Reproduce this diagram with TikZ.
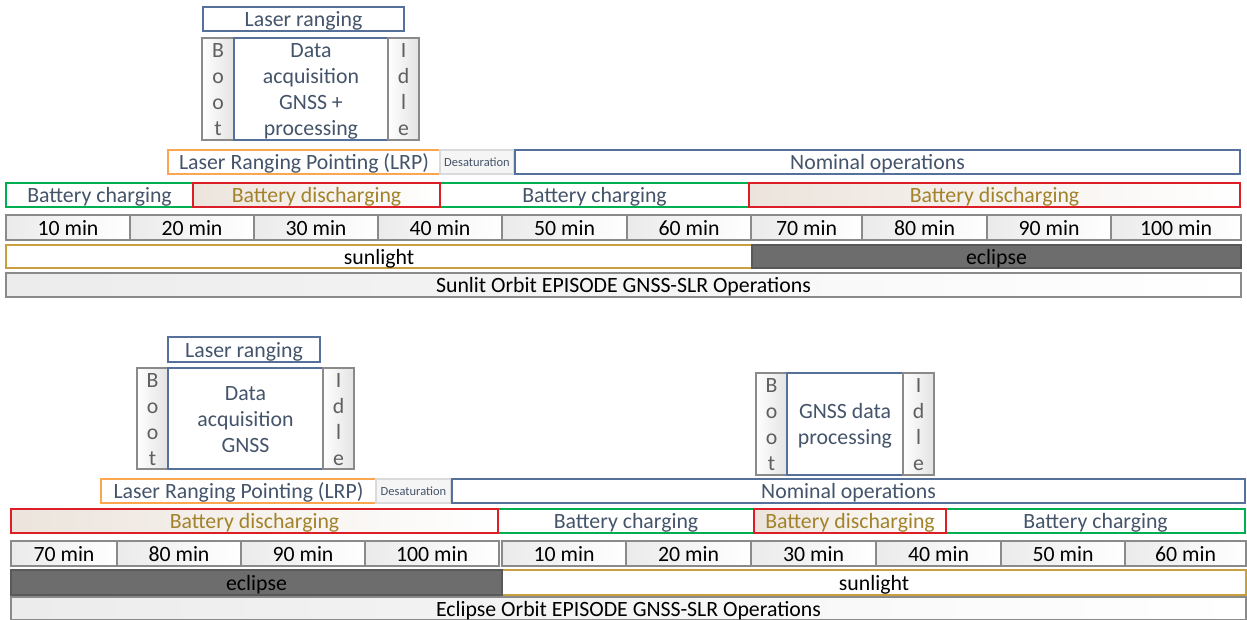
\documentclass[tikz,border=0pt]{standalone}
\usepackage{fontspec}
\setmainfont{Carlito}
\definecolor{txtblue}{HTML}{44546A}
\definecolor{bordblue}{HTML}{56709C}
\definecolor{lrporange}{HTML}{FCA650}
\definecolor{chgreen}{HTML}{00B050}
\definecolor{disred}{HTML}{DC1F26}
\definecolor{goldtxt}{HTML}{A2832B}
\definecolor{goldline}{HTML}{C8A040}
\definecolor{cellgray}{HTML}{8A8A8A}
\definecolor{eclfill}{HTML}{6D6D6D}
\definecolor{desline}{HTML}{DADADA}
\definecolor{beige}{HTML}{ECE4DC}
\definecolor{bootgray}{HTML}{5F5F5F}
\tikzset{
  box/.style={draw, line width=1.4pt, inner sep=0pt, outer sep=0pt,
    font=\fontsize{21.8}{26}\selectfont, text height=15pt, text depth=0pt},
  bluebox/.style={box, draw=bordblue, fill=white, text=txtblue},
  bootbox/.style={box, draw=cellgray, left color=white, right color=gray!22, text=bootgray},
  lrpbox/.style={box, draw=lrporange, fill=white, text=txtblue},
  desat/.style={box, draw=desline, fill=gray!8, text=txtblue,
    font=\fontsize{12.5}{14}\selectfont, text height=8.5pt},
  chg/.style={box, draw=chgreen, fill=white, text=txtblue},
  dis/.style={box, draw=disred, left color=beige, right color=white, text=goldtxt},
  cell/.style={box, draw=cellgray, left color=gray!16, right color=white, text=black},
  sun/.style={box, draw=goldline, fill=white, text=black},
  ecl/.style={box, draw=gray!70!black, fill=eclfill, text=black},
  orbit/.style={box, draw=cellgray, left color=gray!15, right color=white, text=black},
  lines2/.style={align=center, text height=41pt, text depth=0pt},
  lines3/.style={align=center, text height=67pt, text depth=0pt},
  lines4/.style={align=center, text height=93pt, text depth=0pt},
}
\newcommand\bx[7]{\node[#6, minimum width={(#4)-(#2)}, minimum height={(#5)-(#3)}] (#1) at ({((#2)+(#4))/2},{((#3)+(#5))/2}) {#7};}
\begin{document}
\begin{tikzpicture}[x=1pt,y=-1pt]
\useasboundingbox (0,0) rectangle (1247,619);
\fill[white] (0,0) rectangle (1247,619);
\clip (0,0) rectangle (1247,619);
% ---------------- top episode ----------------
\bx{lr1}{203}{7}{404}{31}{bluebox}{Laser ranging}
\bx{boot1}{202}{38}{234}{140}{bootbox, lines4}{B\\o\\o\\t}
\bx{data1}{234}{38}{388}{140}{bluebox, lines4}{Data\\acquisition\\GNSS +\\processing}
\bx{idle1}{388}{38}{419}{140}{bootbox, lines4}{I\\d\\l\\e}
\bx{lrp1}{168}{150}{440}{174}{lrpbox}{Laser Ranging Pointing (LRP)}
\bx{des1}{440}{150}{514}{174}{desat}{Desaturation}
\bx{nom1}{515}{150}{1240}{174}{bluebox}{Nominal operations}
\bx{bc1a}{6}{183}{193}{207}{chg}{Battery charging}
\bx{bc1b}{440}{183}{749}{207}{chg}{Battery charging}
\bx{bd1a}{193}{183}{440}{207}{dis}{Battery discharging}
\bx{bd1b}{749}{183}{1240}{207}{dis}{Battery discharging}
\foreach \a/\b/\t [count=\i] in {6/130/10,130/254/20,254/378/30,378/502/40,502/627/50,627/751/60,751/862/70,862/987/80,987/1111/90,1111/1241/100}
  {\bx{ta\i}{\a}{215}{\b}{240}{cell}{\t~min}}
\bx{sun1}{6}{245}{752}{268}{sun}{sunlight}
\bx{ecl1}{752}{245}{1241}{268}{ecl}{eclipse}
\bx{orb1}{6}{273}{1241}{297}{orbit}{Sunlit Orbit EPISODE GNSS-SLR Operations}
% ---------------- bottom episode ----------------
\bx{lr2}{168}{337}{320}{362}{bluebox}{Laser ranging}
\bx{boot2}{137}{368}{168}{469}{bootbox, lines4}{B\\o\\o\\t}
\bx{data2}{168}{368}{323}{469}{bluebox, lines3}{Data\\acquisition\\GNSS}
\bx{idle2}{323}{368}{354}{469}{bootbox, lines4}{I\\d\\l\\e}
\bx{boot3}{756}{373}{787}{475}{bootbox, lines4}{B\\o\\o\\t}
\bx{data3}{787}{373}{903}{475}{bluebox, lines2}{GNSS data\\processing}
\bx{idle3}{903}{373}{934}{475}{bootbox, lines4}{I\\d\\l\\e}
\bx{lrp2}{101}{479}{376}{503}{lrpbox}{Laser Ranging Pointing (LRP)}
\bx{des2}{376}{479}{451}{503}{desat}{Desaturation}
\bx{nom2}{452}{479}{1245}{503}{bluebox}{Nominal operations}
\bx{bc2a}{498}{509}{754}{533}{chg}{Battery charging}
\bx{bc2b}{946}{509}{1245}{533}{chg}{Battery charging}
\bx{bd2a}{11}{509}{498}{533}{dis}{Battery discharging}
\bx{bd2b}{754}{509}{946}{533}{dis}{Battery discharging}
\foreach \a/\b/\t [count=\i] in {11/117/70,117/241/80,241/365/90,365/499/100,502/626/10,626/751/20,751/876/30,876/1001/40,1001/1125/50,1125/1246/60}
  {\bx{tb\i}{\a}{541}{\b}{566}{cell}{\t~min}}
\bx{sun2}{502}{570}{1246}{595}{sun}{sunlight}
\bx{ecl2}{11}{570}{502}{595}{ecl}{eclipse}
\bx{orb2}{11}{597}{1246}{620}{orbit}{Eclipse Orbit EPISODE GNSS-SLR Operations}
\end{tikzpicture}
\end{document}
